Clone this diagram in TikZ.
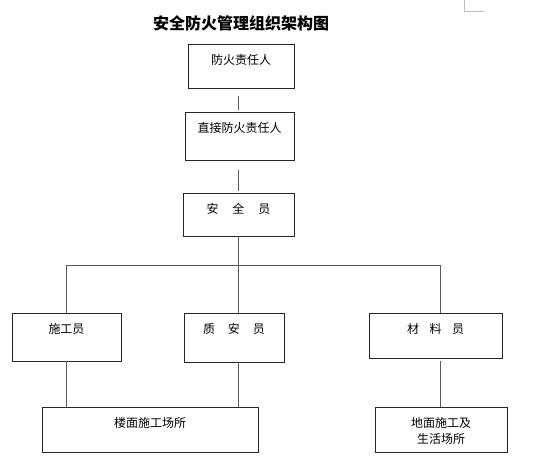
\documentclass[tikz,border=0pt]{standalone}
\usepackage{fontspec}
\setmainfont{Noto Sans CJK SC}
\usetikzlibrary{positioning}

\tikzset{
  box/.style={draw=black!85, line width=1pt, inner sep=0pt, outer sep=0pt},
  boxtext/.style={anchor=north, yshift=-10pt, inner sep=0pt, align=center,
    font=\fontsize{12}{16}\selectfont},
  link/.style={draw=black!65, line width=1pt}
}

\begin{document}
\begin{tikzpicture}[x=1pt, y=-1pt]
  \useasboundingbox (0,0) rectangle (560,463);
  % title
  \node[font=\fontsize{16}{18}\selectfont\bfseries] (title) at (241,23) {安全防火管理组织架构图};
  \draw[black!25, line width=0.8pt] (464,0) -- (464,11) -- (484,11);

  % upper chain
  \node[box, minimum width=106pt, minimum height=44pt] (fhzr) at (241,66)
    [label={[boxtext]north:防火责任人}] {};
  \node[box, minimum width=109pt, minimum height=48pt] (zjzr) at (239.5,136)
    [label={[boxtext]north:直接防火责任人}] {};
  \node[box, minimum width=111pt, minimum height=43pt] (aqy) at (238.5,214.5)
    [label={[boxtext]north:安\hspace{14pt}全\hspace{14pt}员}] {};

  % staff row
  \node[box, minimum width=109pt, minimum height=48pt] (sgy) at (66.5,337)
    [label={[boxtext]north:施工员}] {};
  \node[box, minimum width=100pt, minimum height=49pt] (zay) at (234,337.5)
    [label={[boxtext]north:质\hspace{13pt}安\hspace{13pt}员}] {};
  \node[box, minimum width=133pt, minimum height=45pt] (cly) at (435.5,335.5)
    [label={[boxtext]north:材\hspace{10.5pt}料\hspace{10.5pt}员}] {};

  % places
  \node[box, minimum width=216pt, minimum height=45pt] (lmcs) at (150,429.5)
    [label={[boxtext]north:楼面施工场所}] {};
  \node[box, minimum width=132pt, minimum height=45pt] (dmcs) at (441,429.5)
    [label={[boxtext]north:{地面施工及\\生活场所}}] {};

  % fork points
  \coordinate (barL) at (66,265);
  \coordinate (barM) at (238,265);
  \coordinate (barR) at (440,265);

  % connectors
  \draw[link, shorten <=8pt, shorten >=2pt] (fhzr.south -| barM) -- (zjzr.north -| barM);
  \draw[link, shorten <=10pt, shorten >=2pt] (zjzr.south -| barM) -- (aqy.north -| barM);
  \draw[link] (aqy.south -| barM) -- (barM);
  \draw[link] (barL) -- (barR);
  \draw[link] (barL) -- (barL |- sgy.north);
  \draw[link] (barM) -- (barM |- zay.north);
  \draw[link] (barR) -- (barR |- cly.north);
  \draw[link] (barL |- sgy.south) -- (barL |- lmcs.north);
  \draw[link] (barM |- zay.south) -- (barM |- lmcs.north);
  \draw[link, shorten <=3pt] (barR |- cly.south) -- (barR |- dmcs.north);
\end{tikzpicture}
\end{document}
